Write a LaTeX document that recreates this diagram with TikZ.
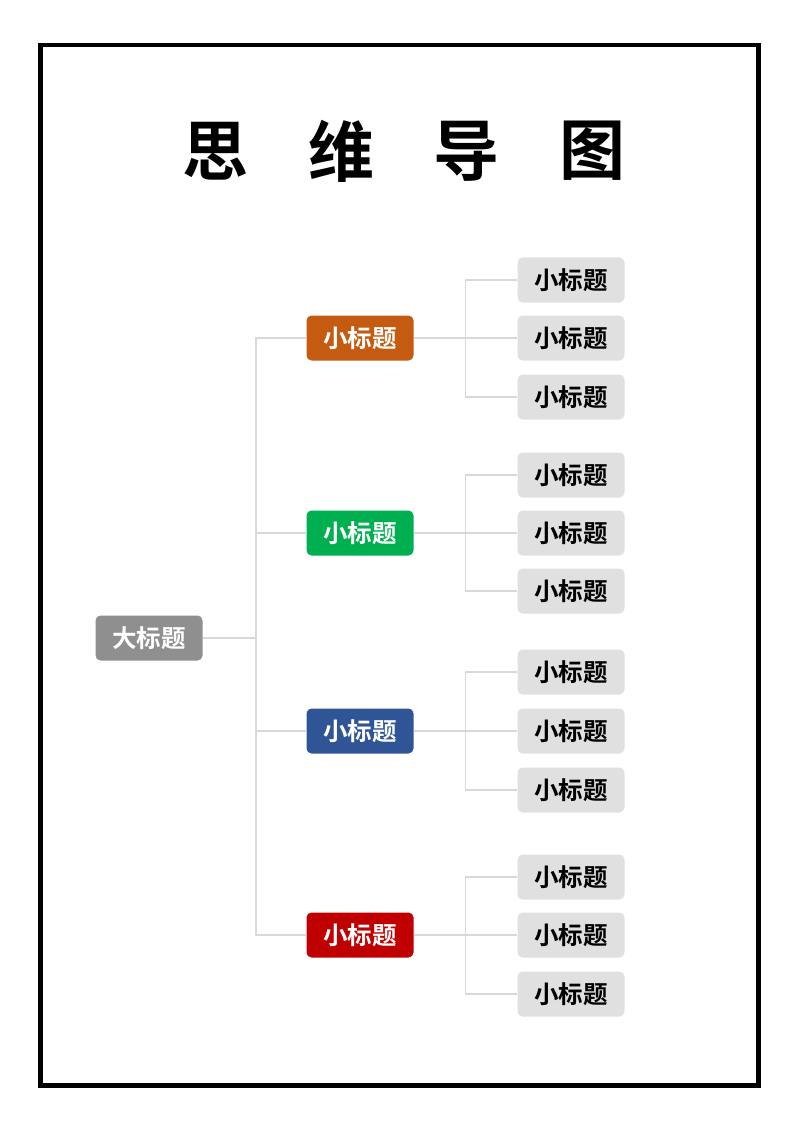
\documentclass[tikz,border=0pt]{standalone}
\usepackage{fontspec}
\newfontfamily\cjkbold{Noto Sans CJK SC Bold}
\definecolor{rootgray}{HTML}{8F8F8F}
\definecolor{leafgray}{HTML}{E0E0E0}
\definecolor{linegray}{HTML}{D9D9D9}
\definecolor{corange}{HTML}{C55A11}
\definecolor{cgreen}{HTML}{00B050}
\definecolor{cblue}{HTML}{2F5597}
\definecolor{cred}{HTML}{C00000}
\begin{document}
\begin{tikzpicture}[x=1pt,y=-1pt,
  box/.style={rounded corners=5pt, minimum width=107pt, minimum height=45pt,
    inner sep=0pt, font=\cjkbold\fontsize{24.5}{24.5}\selectfont},
  rootbox/.style={box, fill=rootgray, text=white},
  midbox/.style={box, fill=#1, text=white},
  leafbox/.style={box, fill=leafgray, text=black},
  conn/.style={draw=linegray, line width=1.5pt},
  titlechar/.style={font=\cjkbold\fontsize{66}{66}\selectfont, inner sep=0pt}]
\useasboundingbox (0,0) rectangle (800,1131);
\draw[line width=4.5pt] (40.5,45) rectangle (758.5,1085.5);
% title
\node[titlechar] (t1) at (215,151) {思};
\node[titlechar] (t2) at (341,151) {维};
\node[titlechar] (t3) at (466,151) {导};
\node[titlechar] (t4) at (592,151) {图};
% root
\node[rootbox] (root) at (149,638) {大标题};
\coordinate (rj) at (256,638);
% mid nodes
\node[midbox=corange] (m1) at (360,338) {小标题};
\node[midbox=cgreen] (m2) at (360,533) {小标题};
\node[midbox=cblue] (m3) at (360,731) {小标题};
\node[midbox=cred] (m4) at (360,935) {小标题};
% leaves
\node[leafbox] (l11) at (571,280) {小标题};
\node[leafbox] (l12) at (571,338) {小标题};
\node[leafbox] (l13) at (571,397) {小标题};
\node[leafbox] (l21) at (571,475) {小标题};
\node[leafbox] (l22) at (571,533) {小标题};
\node[leafbox] (l23) at (571,591) {小标题};
\node[leafbox] (l31) at (571,672) {小标题};
\node[leafbox] (l32) at (571,731) {小标题};
\node[leafbox] (l33) at (571,790) {小标题};
\node[leafbox] (l41) at (571,877) {小标题};
\node[leafbox] (l42) at (571,935) {小标题};
\node[leafbox] (l43) at (571,994) {小标题};
% connectors root -> mids
\draw[conn] (root.east) -- (rj);
\draw[conn] (m1.west) -- (rj |- m1.west) -- (rj |- m4.west) -- (m4.west);
\draw[conn] (rj |- m2.west) -- (m2.west);
\draw[conn] (rj |- m3.west) -- (m3.west);
% mids -> leaves
\foreach \m/\a/\b/\c in {m1/l11/l12/l13, m2/l21/l22/l23, m3/l31/l32/l33, m4/l41/l42/l43}{
  \draw[conn] (\m.east) -- (\b.west);
  \draw[conn] (\a.west) -- ([xshift=-52pt]\a.west) -- ([xshift=-52pt]\c.west) -- (\c.west);
}
\end{tikzpicture}
\end{document}
